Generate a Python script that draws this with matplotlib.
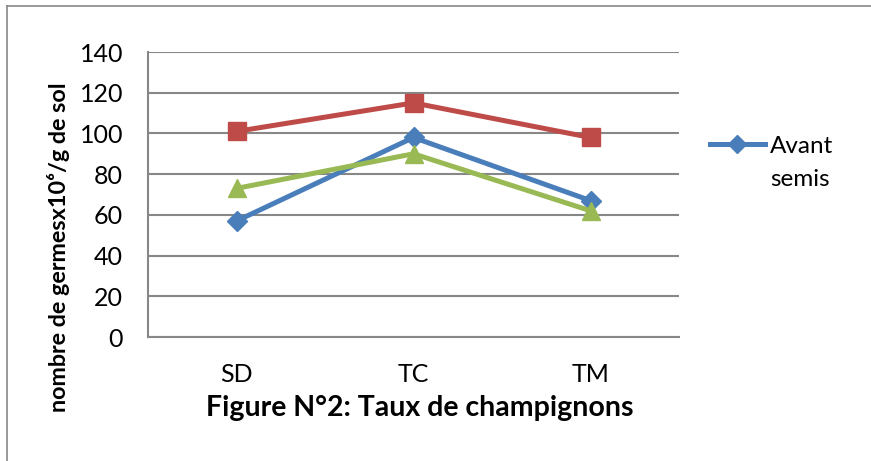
import matplotlib.pyplot as plt
from matplotlib.lines import Line2D

plt.rcParams['font.family'] = ['Lato', 'DejaVu Sans']

categories = ['SD', 'TC', 'TM']
avant_semis = [57, 98, 67]
serie_rouge = [101, 115, 98]
serie_verte = [73, 90, 62]

blue = '#4A7EBB'
red = '#BE4B48'
green = '#98B954'
grid_col = '#878787'

fig = plt.figure(figsize=(8.71, 4.61), dpi=100)
ax = fig.add_axes([148 / 871, 1 - 337 / 461, 531 / 871, 285 / 461])

x = range(len(categories))
ax.plot(x, avant_semis, color=blue, lw=3.6, marker='D', ms=10.5, zorder=3)
ax.plot(x, serie_rouge, color=red, lw=3.6, marker='s', ms=13, zorder=3)
ax.plot(x, serie_verte, color=green, lw=3.6, marker='^', ms=13, zorder=3)

ax.set_xlim(-0.5, 2.5)
ax.set_ylim(0, 140)
ax.set_yticks(range(0, 141, 20))
ax.set_xticks(list(x))
ax.set_xticklabels(categories)
ax.tick_params(axis='both', length=0, labelsize=18)
ax.tick_params(axis='y', pad=18)
ax.tick_params(axis='x', pad=19)
ax.yaxis.grid(True, color=grid_col, lw=1.5)
ax.set_axisbelow(True)
for s in ['top', 'right']:
    ax.spines[s].set_visible(False)
for s in ['left', 'bottom']:
    ax.spines[s].set_color(grid_col)
    ax.spines[s].set_linewidth(1.5)

# y label and caption
fig.text(58 / 871, 1 - 247 / 461, 'nombre de germesx10\u2076/g de sol',
         rotation=90, ha='center', va='center', fontsize=16.8, fontweight='bold')
fig.text(420 / 871, 1 - 408 / 461, 'Figure N°2: Taux de champignons',
         ha='center', va='center', fontsize=20.5, fontweight='bold')

# legend shows only the first series
handle = Line2D([], [], color=blue, lw=3.6, marker='D', ms=9)
fig.legend([handle], ['Avant'], loc='center left',
           bbox_to_anchor=(710 / 871, 1 - 146 / 461), frameon=False,
           borderpad=0, borderaxespad=0,
           fontsize=17.5, handlelength=2.25, handletextpad=0.2)
fig.text(770 / 871, 1 - 179 / 461, 'semis', ha='left', va='center', fontsize=17.5)

# outer frame (left and top edges visible)
fig.add_artist(Line2D([7 / 871, 7 / 871], [0, 1 - 6 / 461], color='#888888', lw=1.2))
fig.add_artist(Line2D([7 / 871, 1], [1 - 6 / 461, 1 - 6 / 461], color='#888888', lw=1.2))

fig.savefig('out.png', dpi=100)
plt.close()
